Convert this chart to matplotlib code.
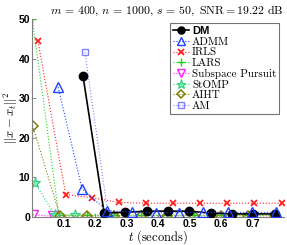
import matplotlib
matplotlib.use("Agg")
from matplotlib import pyplot as plt

plt.rcParams['mathtext.fontset'] = 'cm'

# data
dm_t = [0.162, 0.229, 0.295, 0.365, 0.432, 0.498, 0.568, 0.635, 0.702, 0.771]
dm_v = [35.6, 1.0, 1.2, 1.5, 1.5, 1.5, 1.0, 0.8, 0.8, 0.8]
admm_t = [0.083, 0.159, 0.238, 0.316, 0.393, 0.468, 0.544, 0.623, 0.697, 0.774]
admm_v = [32.8, 7.1, 1.6, 1.3, 1.1, 1.1, 1.2, 1.2, 1.2, 1.2]
irls_t = [0.019, 0.107, 0.19, 0.276, 0.362, 0.448, 0.533, 0.619, 0.705, 0.794]
irls_v = [44.4, 5.7, 4.9, 3.7, 3.5, 3.5, 3.5, 3.5, 3.5, 3.5]
lars_t = [0.001, 0.085, 0.175, 0.26, 0.345, 0.43, 0.514, 0.599, 0.687, 0.772]
lars_v = [50.0, 0.6, 0.5, 0.5, 0.5, 0.5, 0.5, 0.5, 0.5, 0.5]
sp_t = [0.002, 0.068]
sp_v = [0.6, 0.2]
stomp_t = [0.01, 0.073, 0.137]
stomp_v = [8.5, 0.5, 0.4]
aiht_t = [0.002, 0.089, 0.175, 0.26, 0.345, 0.43, 0.514, 0.599, 0.687, 0.772]
aiht_v = [23.1, 0.3, 0.3, 0.3, 0.3, 0.3, 0.3, 0.3, 0.3, 0.3]
am_t = [0.168, 0.242]
am_v = [41.6, 0.3]

fig = plt.figure(figsize=(2.87, 2.45), dpi=100)
ax = fig.add_axes([0.1115, 0.114, 0.878, 0.808])

ax.plot(dm_t, dm_v, '-', color='black', lw=1.2, marker='o', ms=6,
        label='DM', zorder=5)
ax.plot(admm_t, admm_v, ':', color='#2040ff', lw=0.8, marker='^', ms=7,
        mfc='none', mew=1.0, label='ADMM', zorder=6)
ax.plot(irls_t, irls_v, ':', color='#ff2020', lw=0.8, marker='x', ms=5,
        mew=1.3, label='IRLS')
ax.plot(lars_t, lars_v, ':', color='#20d020', lw=0.8, marker='+', ms=6,
        mew=1.0, label='LARS')
ax.plot(sp_t, sp_v, ':', color='#ff20ff', lw=0.8, marker='v', ms=7,
        mfc='none', mew=1.0, label='Subspace Pursuit')
ax.plot(stomp_t, stomp_v, ':', color='#30d080', lw=0.8, marker='*', ms=8,
        mfc='#80f0b0', mew=0.8, label='StOMP')
ax.plot(aiht_t, aiht_v, ':', color='#808000', lw=0.8, marker='D', ms=5,
        mfc='none', mew=1.1, label='AIHT')
ax.plot(am_t, am_v, ':', color='#8080ff', lw=0.8, marker='s', ms=5,
        mfc='none', mew=1.0, label='AM')

ax.set_xlim(0, 0.8)
ax.set_ylim(0, 50)
ax.set_xticks([0.1, 0.2, 0.3, 0.4, 0.5, 0.6, 0.7])
ax.set_xticklabels(['0.1', '0.2', '0.3', '0.4', '0.5', '0.6', '0.7'])
ax.set_yticks([0, 10, 20, 30, 40, 50])
for lab in ax.get_xticklabels() + ax.get_yticklabels():
    lab.set_fontfamily('Liberation Sans')
    lab.set_fontweight('bold')
    lab.set_fontsize(7.5)
ax.tick_params(direction='in', length=3, width=0.6, color='#808080', pad=1.5)
for s in ['top', 'right']:
    ax.spines[s].set_visible(False)
for s in ['left', 'bottom']:
    ax.spines[s].set_color('#808080')
    ax.spines[s].set_linewidth(0.8)

ax.set_xlabel(r'$t\ \mathrm{(seconds)}$', fontsize=9, labelpad=-1)
ax.set_ylabel(r'$||x - x_t||^2$', fontsize=9, labelpad=-1)
ax.set_title(r'$m\,=\,400,\,n\,=\,1000,\,s\,=\,50,\ \mathrm{SNR{=}19.22\ dB}$',
             fontsize=8.5, x=0.535, pad=4)

leg = ax.legend(loc='upper right', bbox_to_anchor=(0.99, 0.99), fontsize=8,
                frameon=True, fancybox=False, edgecolor='#505050',
                handlelength=1.4, handletextpad=0.3, borderpad=0.25,
                labelspacing=0.08, borderaxespad=0.2, markerscale=0.85)
leg.get_frame().set_linewidth(0.8)
for txt in leg.get_texts():
    if txt.get_text() == 'DM':
        txt.set_fontfamily('Liberation Sans')
        txt.set_fontweight('bold')
    else:
        txt.set_fontfamily('cmr10')

fig.savefig('out.png', dpi=100)
